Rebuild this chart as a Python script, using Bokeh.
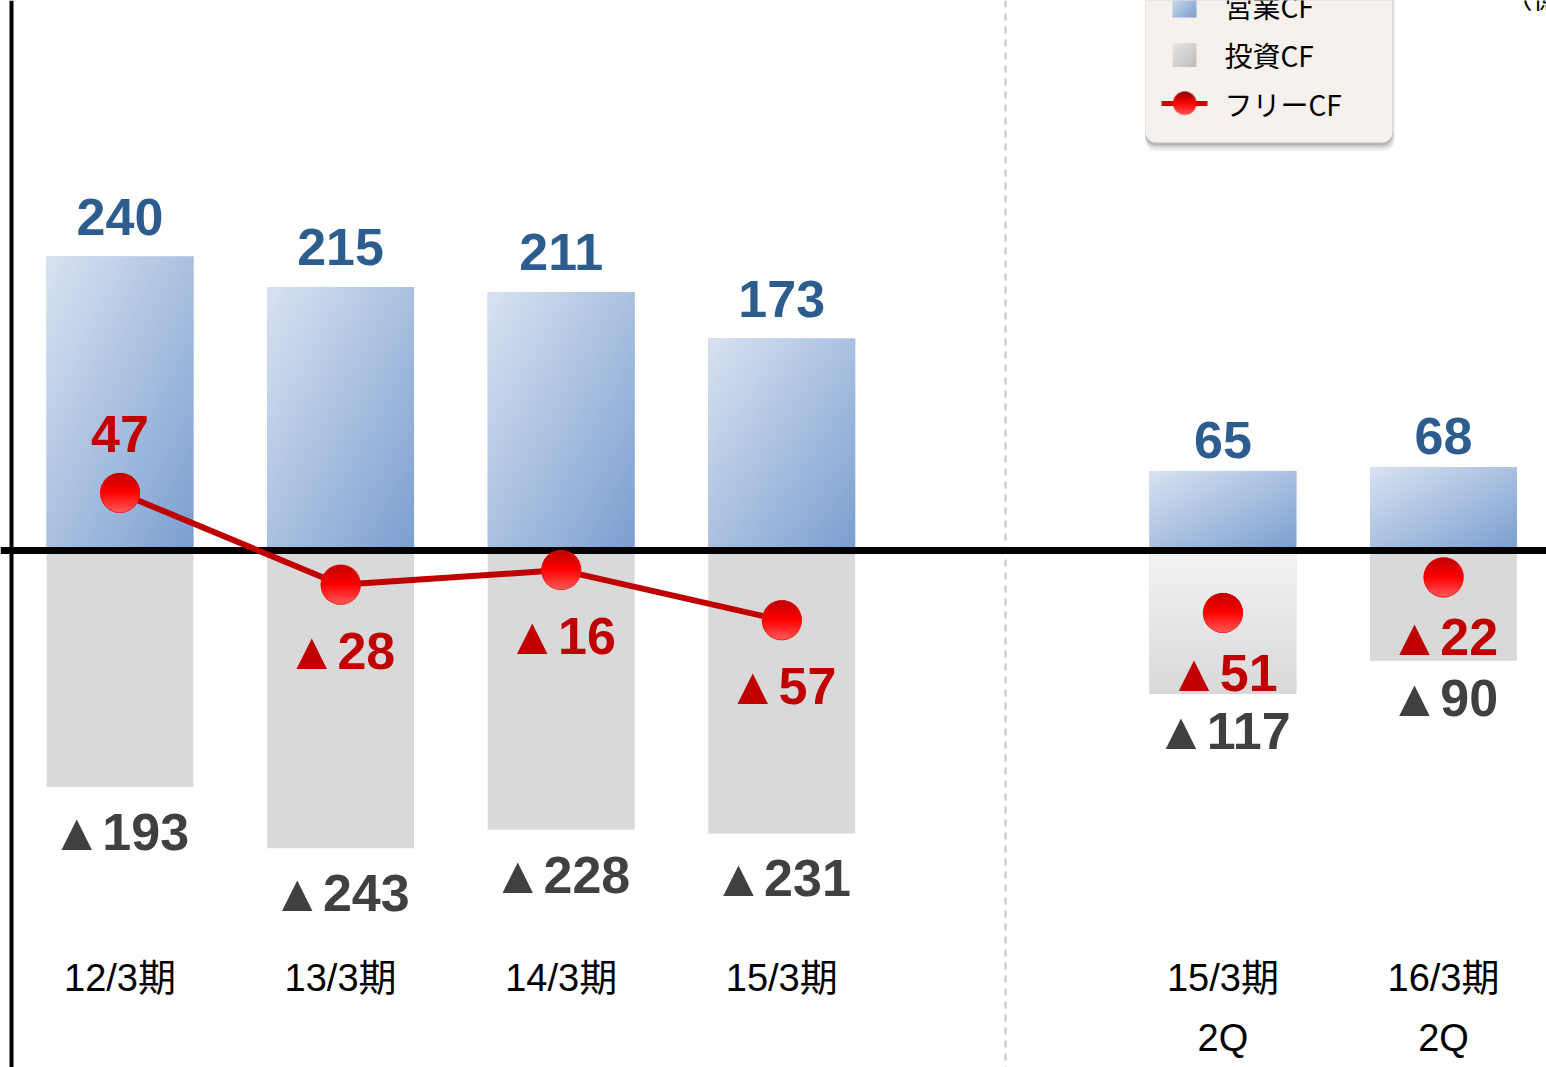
import numpy as np
from bokeh.plotting import figure
from bokeh.models import ColumnDataSource, Range1d, BoxAnnotation
from bokeh.core.properties import value
from bokeh.embed import file_html
from bokeh.resources import INLINE

# ---------------- data ----------------
annual_labels = ["12/3期", "13/3期", "14/3期", "15/3期"]
half_labels = ["15/3期\n2Q", "16/3期\n2Q"]
op_cf_annual = [240, 215, 211, 173]
inv_cf_annual = [-193, -243, -228, -231]
free_cf_annual = [47, -28, -16, -57]
op_cf_half = [65, 68]
inv_cf_half = [-117, -90]
free_cf_half = [-51, -22]
legend_labels = ["営業CF", "投資CF", "フリーCF"]
unit_label = "（億円）"

# ---------------- layout helpers (picture pixels -> data) ----------------
K = 1.225      # px per unit
Y0 = 550.0     # zero line (px)
X0 = 119.5     # first category centre (px)
DX = 220.58    # category pitch (px)


def fx(X):
    return (X - X0) / DX


def fy(Y):
    return (Y0 - Y) / K


W, H = 1546, 1067
p = figure(width=W, height=H, x_range=Range1d(fx(0), fx(W)),
           y_range=Range1d(fy(H), fy(0)), x_axis_type=None, y_axis_type=None,
           toolbar_location=None, output_backend="svg", min_border=0,
           outline_line_color=None, background_fill_color="white",
           border_fill_color="white")

n_a, n_h = len(annual_labels), len(half_labels)
xs = list(range(n_a)) + [n_a + 1 + i for i in range(n_h)]
labels = annual_labels + half_labels
op = op_cf_annual + op_cf_half
inv = inv_cf_annual + inv_cf_half
free = free_cf_annual + free_cf_half
is_half = [False] * n_a + [True] * n_h
BW = 0.666


def tri(v):
    return ("▲" + str(abs(v))) if v < 0 else str(v)


src = ColumnDataSource(dict(
    x=xs, op=op, inv=inv, free=free,
    zero=[0] * len(xs),
    op_txt=[str(v) for v in op],
    inv_txt=[tri(v) for v in inv],
    free_txt=[tri(v) for v in free],
    op_off=[-31 if h else -40 for h in is_half],
    inv_off=[37 if h else 45 for h in is_half],
    free_off=[(-59 if v >= 0 else (60 if h else 66)) for v, h in zip(free, is_half)],
    line1=[l.split("\n")[0] for l in labels],
    line2=[l.split("\n")[1] if "\n" in l else "" for l in labels],
    cat_y=[fy(977)] * len(xs),
    cat_y2=[fy(1037)] * len(xs),
))


def hex2rgb(c):
    return np.array([int(c[i:i + 2], 16) for i in (1, 3, 5)], float)


def grad_image(stops, mode, n=64, round_mask=False):
    u = np.linspace(0, 1, n)
    U, V = np.meshgrid(u, u)  # V: 0 bottom .. 1 top
    if mode == "diag":
        t = (U + (1 - V)) / 2
    else:
        t = 1 - V
    pos = np.linspace(0, 1, len(stops))
    cols = [hex2rgb(s) for s in stops]
    img = np.zeros((n, n), dtype=np.uint32)
    view = img.view(dtype=np.uint8).reshape((n, n, 4))
    for k in range(3):
        view[:, :, k] = np.round(np.interp(t, pos, [c[k] for c in cols])).astype(np.uint8)
    if round_mask:
        r = np.sqrt((U - 0.5) ** 2 + (V - 0.5) ** 2) * n
        a = np.clip(n / 2 - r + 0.5, 0, 1)
        view[:, :, 3] = np.round(a * 255).astype(np.uint8)
    else:
        view[:, :, 3] = 255
    return img


# ---------------- guide lines ----------------
p.vspan(x=[fx(1005)], line_color="#c4c4c4", line_width=2, line_dash="7 6")

# ---------------- investment bars ----------------
p.vbar(x="x", top="inv", bottom="zero", width=BW, source=src,
       fill_color="#d9d9d9", line_color=None)
gray_img = grad_image(["#f3f3f3", "#d9d9d9"], "vert")
inv_grad = [False] * n_a + [True, False]
gi = [i for i, g in enumerate(inv_grad) if g]
p.image_rgba(image=[gray_img for _ in gi], x=[xs[i] - BW / 2 for i in gi],
             y=[inv[i] for i in gi], dw=[BW for _ in gi], dh=[-inv[i] for i in gi])

# ---------------- operating bars ----------------
p.vbar(x="x", top="op", bottom="zero", width=BW, source=src,
       fill_color="#aabfe0", line_color=None)
blue_img = grad_image(["#d8e2f1", "#7b9fd0"], "diag")
p.image_rgba(image=[blue_img for _ in xs], x=[x - BW / 2 for x in xs], y=[0] * len(xs),
             dw=[BW] * len(xs), dh=op)

# axes lines
p.vspan(x=[fx(10.5)], line_color="black", line_width=4)
p.hspan(y=[0], line_color="black", line_width=7)

# ---------------- free CF ----------------
R = 20  # marker radius px
p.line(x=xs[:n_a], y=free[:n_a], line_color="#c00000", line_width=6)
p.scatter(x="x", y="free", source=src, size=2 * R, marker="circle",
          fill_color="#f20000", line_color=None)
red_img = grad_image(["#c00000", "#ff0000", "#ff5a5a"], "vert", n=80, round_mask=True)
p.image_rgba(image=[red_img for _ in xs], x=[x - R / DX for x in xs],
             y=[v - R / K for v in free], dw=[2 * R / DX] * len(xs),
             dh=[2 * R / K] * len(xs))

NUM_FONT = value("'Liberation Sans', 'Noto Sans CJK JP'")
p.text(x="x", y="op", text="op_txt", y_offset="op_off", source=src,
       text_font=NUM_FONT, text_font_style="bold", text_font_size="52px",
       text_color="#2c5d8e", text_align="center", text_baseline="middle")
p.text(x="x", y="inv", text="inv_txt", y_offset="inv_off", source=src,
       text_font=NUM_FONT, text_font_style="bold", text_font_size="52px",
       text_color="#404040", text_align="center", text_baseline="middle")
p.text(x="x", y="free", text="free_txt", y_offset="free_off", source=src,
       text_font=NUM_FONT, text_font_style="bold", text_font_size="52px",
       text_color="#c00000", text_align="center", text_baseline="middle")

# ---------------- category labels ----------------
CAT_FONT = value("'Liberation Sans', 'Noto Sans CJK JP'")
p.text(x="x", y="cat_y", text="line1", source=src, text_font=CAT_FONT,
       text_font_size="38px", text_color="black", text_align="center",
       text_baseline="middle")
p.text(x="x", y="cat_y2", text="line2", source=src, text_font=CAT_FONT,
       text_font_size="38px", text_color="black", text_align="center",
       text_baseline="middle")

# ---------------- legend (manual) ----------------
for (l, r, b, a) in [(1145, 1394, 150, 0.18), (1145, 1393, 147, 0.25), (1145, 1392, 145, 0.35)]:
    p.add_layout(BoxAnnotation(left=fx(l), right=fx(r), bottom=fy(b), top=fy(-30),
                               fill_color="#8a8a8a", fill_alpha=a, line_color=None,
                               border_radius=10, level="underlay"))
p.add_layout(BoxAnnotation(left=fx(1145), right=fx(1392), bottom=fy(142), top=fy(-30),
                           fill_color="#f7f1ed", fill_alpha=1.0, line_color=None,
                           border_radius=10, level="underlay"))

rows_y = [fy(5), fy(54.5), fy(103)]
S = 24  # legend icon size px
icon_blue = grad_image(["#d5dff0", "#7b9fd0"], "diag", n=24)
icon_gray = grad_image(["#e6e6e6", "#bdbdbd"], "diag", n=24)
p.image_rgba(image=[icon_blue, icon_gray], x=[fx(1184 - S / 2)] * 2,
             y=[rows_y[0] - S / 2 / K, rows_y[1] - S / 2 / K],
             dw=[S / DX] * 2, dh=[S / K] * 2)
p.segment(x0=[fx(1161)], y0=[rows_y[2]], x1=[fx(1207)], y1=[rows_y[2]],
          line_color="#d00000", line_width=5)
icon_red = grad_image(["#800000", "#ff0000", "#ff5a5a"], "vert", n=48, round_mask=True)
p.image_rgba(image=[icon_red], x=[fx(1184 - 12)], y=[rows_y[2] - 12 / K],
             dw=[24 / DX], dh=[24 / K])
p.text(x=[fx(1224)] * 3, y=rows_y, text=legend_labels,
       text_font=value("'Noto Sans CJK JP'"), text_font_size="28px",
       text_color="black", text_align="left", text_baseline="middle")

p.text(x=[fx(1504)], y=[fy(-4)], text=[unit_label],
       text_font=value("'Noto Sans CJK JP'"), text_font_size="28px",
       text_color="black", text_align="left", text_baseline="middle")

open("out.html", "w").write(file_html(p, INLINE))
